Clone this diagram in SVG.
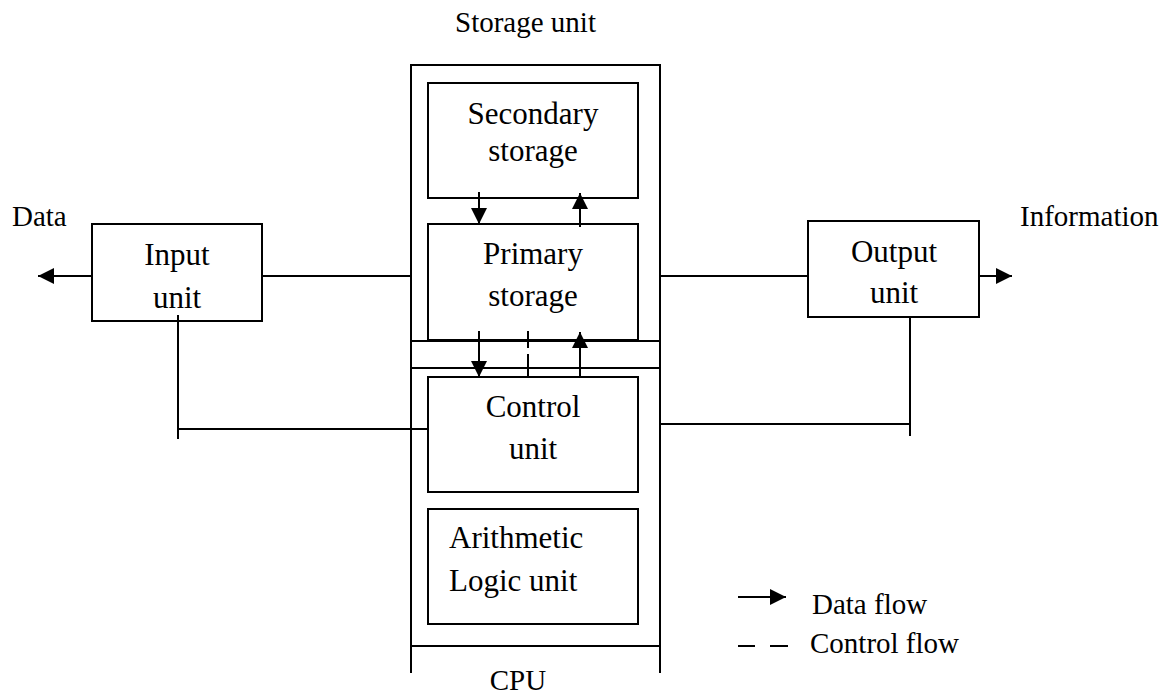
<svg xmlns="http://www.w3.org/2000/svg" width="1167" height="694" viewBox="0 0 1167 694">
<style>
.b{fill:none;stroke:#000;stroke-width:2}
.l{fill:none;stroke:#000;stroke-width:2}
.t{font-family:"Liberation Serif","Times New Roman",serif;font-size:31px;fill:#000}
.s{font-family:"Liberation Serif","Times New Roman",serif;font-size:29px;fill:#000}
.m{text-anchor:middle}
</style>
<defs>
<marker id="ah" viewBox="0 0 16 16" refX="16" refY="8" markerWidth="16" markerHeight="16" markerUnits="userSpaceOnUse" orient="auto">
<path d="M0,0 L16,8 L0,16 Z" fill="#000"/>
</marker>
</defs>
<rect width="1167" height="694" fill="#fff"/>

<g id="storage-unit">
<path class="b" d="M411,367 V65 H660 V367"/>
<line class="b" x1="411" y1="341" x2="660" y2="341" stroke-width="2.5"/>
<text class="s" x="455" y="32">Storage unit</text>
</g>
<g id="cpu">
<path class="b" d="M411,673 V368 H660 V673"/>
<line class="b" x1="411" y1="646" x2="660" y2="646"/>
<text class="s m" x="518" y="690">CPU</text>
</g>
<g id="secondary-storage">
<rect class="b" x="428" y="83" width="210" height="115"/>
<text class="t m" x="533" y="124">Secondary</text>
<text class="t m" x="533" y="161">storage</text>
</g>
<g id="primary-storage">
<rect class="b" x="428" y="224" width="210" height="116"/>
<text class="t m" x="533" y="264">Primary</text>
<text class="t m" x="533" y="306">storage</text>
</g>
<g id="control-unit">
<rect class="b" x="428" y="377" width="210" height="115"/>
<text class="t m" x="533" y="417">Control</text>
<text class="t m" x="533" y="459">unit</text>
</g>
<g id="alu">
<rect class="b" x="428" y="509" width="210" height="115"/>
<text class="t" x="449" y="548">Arithmetic</text>
<text class="t" x="449" y="591">Logic unit</text>
</g>
<g id="input-unit">
<rect class="b" x="92" y="224" width="170" height="97"/>
<text class="t m" x="177" y="265">Input</text>
<text class="t m" x="177" y="308">unit</text>
</g>
<g id="output-unit">
<rect class="b" x="808" y="221" width="171" height="96"/>
<text class="t m" x="894" y="262">Output</text>
<text class="t m" x="894" y="303">unit</text>
</g>
<g id="labels">
<text class="s" x="12" y="226">Data</text>
<text class="s" x="1020" y="226">Information</text>
</g>
<g id="legend">
<line class="l" x1="738" y1="597" x2="786" y2="597" marker-end="url(#ah)"/>
<text class="s" x="812" y="614">Data flow</text>
<line class="l" x1="738" y1="646" x2="755" y2="646"/>
<line class="l" x1="770" y1="646" x2="788" y2="646"/>
<text class="s" x="810" y="653">Control flow</text>
</g>
<g id="connectors">
<line class="l" x1="92" y1="276" x2="38" y2="276" marker-end="url(#ah)"/>
<line class="l" x1="262" y1="276" x2="411" y2="276"/>
<line class="l" x1="660" y1="276" x2="808" y2="276"/>
<line class="l" x1="979" y1="276" x2="1012" y2="276" marker-end="url(#ah)"/>
<line class="l" x1="178" y1="315" x2="178" y2="439"/>
<line class="l" x1="178" y1="429" x2="428" y2="429"/>
<line class="l" x1="910" y1="317" x2="910" y2="436"/>
<line class="l" x1="660" y1="424" x2="910" y2="424"/>
<line class="l" x1="479" y1="192" x2="479" y2="224" marker-end="url(#ah)"/>
<line class="l" x1="580" y1="227" x2="580" y2="193" marker-end="url(#ah)"/>
<line class="l" x1="479" y1="331" x2="479" y2="377" marker-end="url(#ah)"/>
<line class="l" x1="528" y1="331" x2="528" y2="348"/>
<line class="l" x1="528" y1="354" x2="528" y2="376"/>
<line class="l" x1="580" y1="376" x2="580" y2="332" marker-end="url(#ah)"/>
</g>
</svg>
